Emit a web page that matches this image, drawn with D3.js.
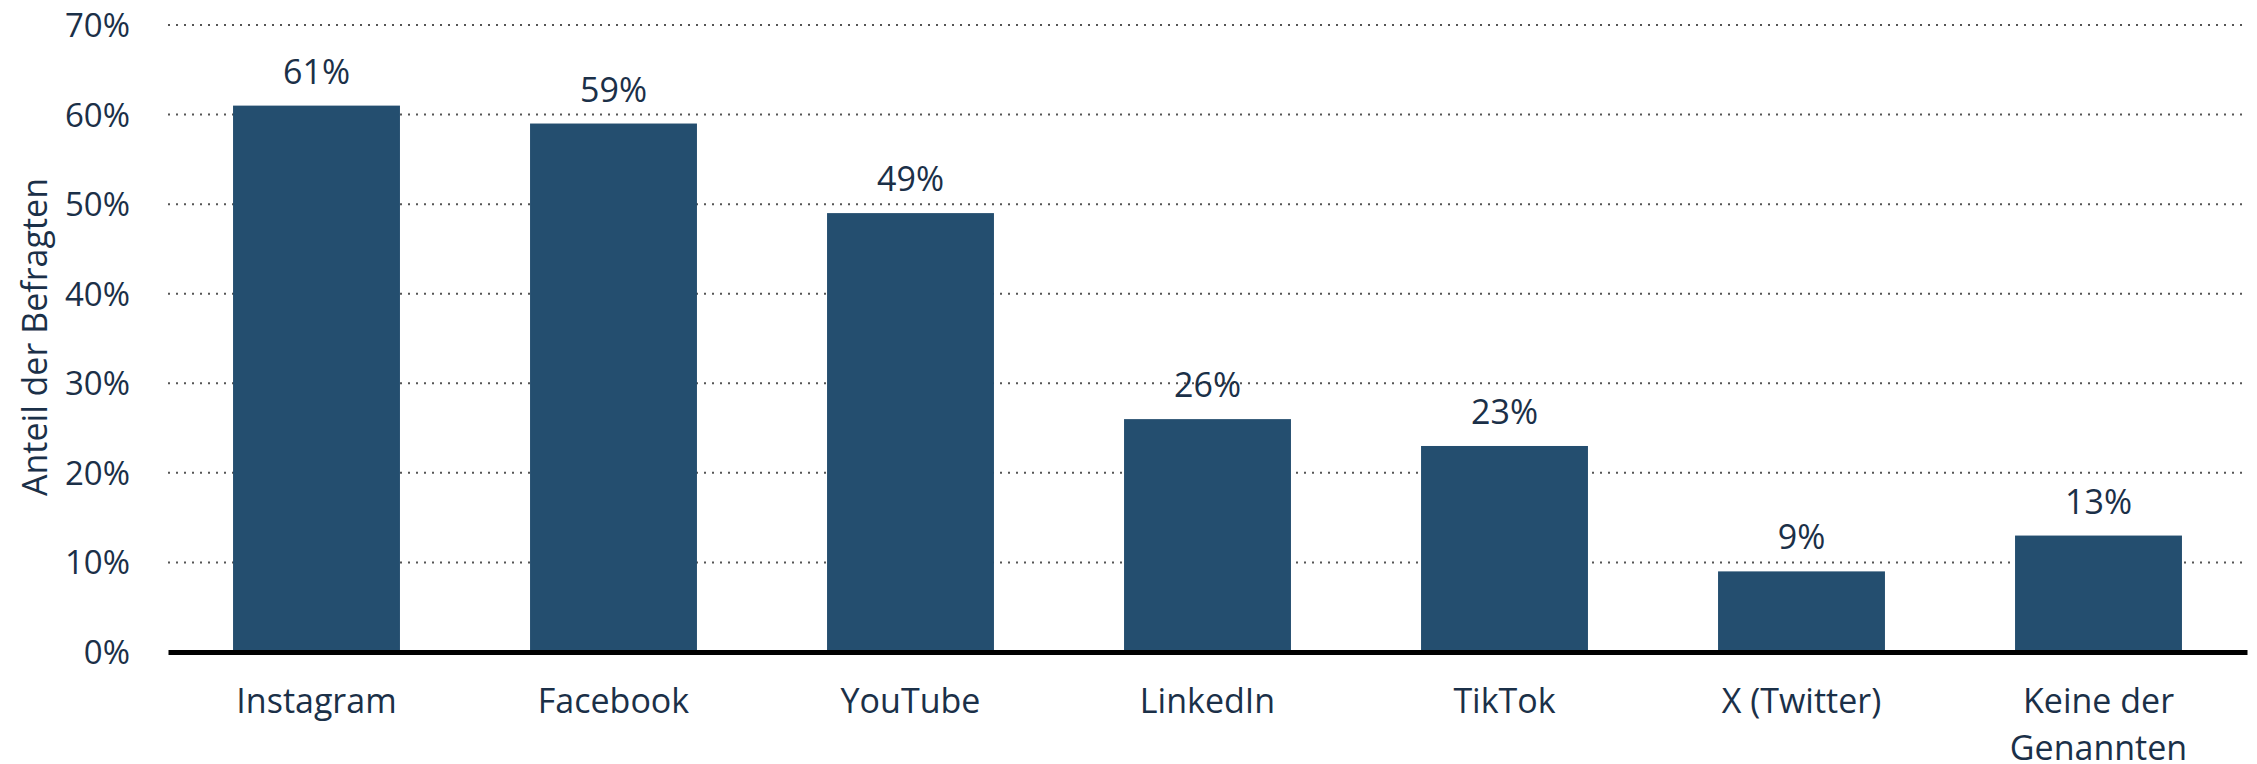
<!DOCTYPE html>
<html>
<head>
<meta charset="utf-8">
<script src="https://cdn.jsdelivr.net/npm/d3@7"></script>
<style>
    body { margin: 0; background: #fff; }
    svg text { font-family: "Open Sans", "Noto Sans", sans-serif; fill: #1b3048; }
</style>
</head>
<body>
<svg id="barChart"></svg>
<script>
// Chart data
var categories = ['Instagram', 'Facebook', 'YouTube', 'LinkedIn', 'TikTok', 'X (Twitter)', 'Keine der Genannten'];
var values = [61, 59, 49, 26, 23, 9, 13];
var yTicks = [0, 10, 20, 30, 40, 50, 60, 70];
var yTitle = 'Anteil der Befragten';

var width = 2257;
var height = 764;
var plotLeft = 168, plotRight = 2247, plotTop = 25, plotBottom = 652;

var svg = d3.select('#barChart')
    .attr('width', width)
    .attr('height', height);

var xScale = d3.scaleBand()
    .domain(categories)
    .range([plotLeft, plotRight])
    .paddingInner(0.438)
    .paddingOuter(0.219);

var yScale = d3.scaleLinear()
    .domain([0, 70])
    .range([plotBottom, plotTop]);

// Gridlines (dotted)
svg.append('g')
    .selectAll('line')
    .data(yTicks.filter(d => d > 0))
    .enter()
    .append('line')
    .attr('x1', plotLeft)
    .attr('x2', plotRight - 4)
    .attr('y1', d => yScale(d))
    .attr('y2', d => yScale(d))
    .attr('stroke', '#555')
    .attr('stroke-width', 2)
    .attr('stroke-dasharray', '2,6');

// Y-axis tick labels
var yAxis = d3.axisLeft(yScale)
    .tickValues(yTicks)
    .tickSize(0)
    .tickPadding(38)
    .tickFormat(d => d + '%');
var yg = svg.append('g')
    .attr('transform', `translate(${plotLeft}, 0)`)
    .call(yAxis);
yg.select('.domain').remove();
yg.selectAll('text')
    .style('font-size', '33px')
    .attr('fill', '#1b3048')
    .attr('dy', '0.35em');

// Bars
svg.selectAll('.bar')
    .data(values)
    .enter()
    .append('rect')
    .attr('class', 'bar')
    .attr('x', (d, i) => xScale(categories[i]))
    .attr('y', d => yScale(d))
    .attr('width', xScale.bandwidth())
    .attr('height', d => plotBottom - yScale(d))
    .attr('fill', '#244e6f');

// Value labels
svg.selectAll('.value-label')
    .data(values)
    .enter()
    .append('text')
    .attr('class', 'value-label')
    .attr('x', (d, i) => xScale(categories[i]) + xScale.bandwidth() / 2)
    .attr('y', d => yScale(d) - 22)
    .attr('text-anchor', 'middle')
    .style('font-size', '34px')
    .text(d => d + '%');

// X-axis baseline
var xAxis = d3.axisBottom(xScale).tickSize(0).tickFormat('');
var xg = svg.append('g')
    .attr('transform', `translate(0, ${plotBottom})`)
    .call(xAxis);
xg.select('.domain')
    .attr('stroke', '#000')
    .attr('stroke-width', 5);

// Category labels (wrapped)
var catLabels = svg.selectAll('.cat-label')
    .data(categories)
    .enter()
    .append('text')
    .attr('class', 'cat-label')
    .attr('text-anchor', 'middle')
    .style('font-size', '34px');

catLabels.each(function(d) {
    var lines = d === 'Keine der Genannten' ? ['Keine der', 'Genannten'] : [d];
    var t = d3.select(this);
    lines.forEach(function(line, i) {
        t.append('tspan')
            .attr('x', xScale(d) + xScale.bandwidth() / 2)
            .attr('y', 713 + i * 47)
            .text(line);
    });
});

// Y-axis title
svg.append('text')
    .attr('transform', 'rotate(-90)')
    .attr('x', -337)
    .attr('y', 47)
    .attr('text-anchor', 'middle')
    .style('font-size', '34px')
    .text(yTitle);
</script>
</body>
</html>
